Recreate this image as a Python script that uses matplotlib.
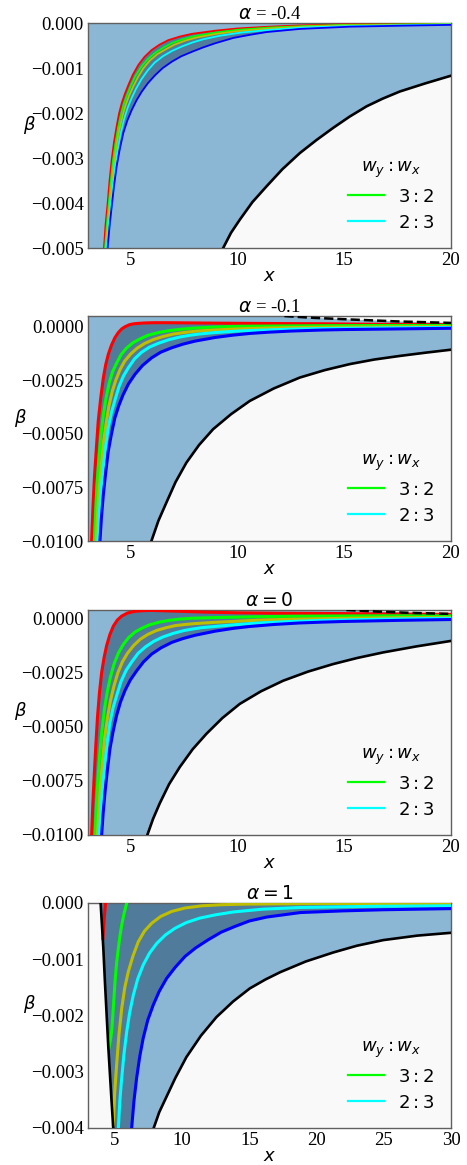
import matplotlib
matplotlib.use('Agg')
import matplotlib.pyplot as plt
from matplotlib.lines import Line2D

plt.rcParams['font.family'] = ['Liberation Serif', 'DejaVu Serif']
plt.rcParams['mathtext.fontset'] = 'dejavusans'

LIGHT = '#8bb6d4'
DARK = '#507b9b'
BG = '#f9f9f9'

titles = [r'$\alpha$ = -0.4', r'$\alpha$ = -0.1', r'$\alpha = 0$', r'$\alpha = 1$']
xlims = [(3, 20), (3, 20), (3, 20), (3, 30)]
ylims = [(-0.005, 0.0), (-0.01, 0.0005), (-0.01, 0.0004), (-0.004, 0.0)]
yticks = [[0.0, -0.001, -0.002, -0.003, -0.004, -0.005],
          [0.0, -0.0025, -0.005, -0.0075, -0.01],
          [0.0, -0.0025, -0.005, -0.0075, -0.01],
          [0.0, -0.001, -0.002, -0.003, -0.004]]
ytick_fmt = ['%.3f', '%.4f', '%.4f', '%.3f']
xticks = [[5, 10, 15, 20], [5, 10, 15, 20], [5, 10, 15, 20], [5, 10, 15, 20, 25, 30]]

# ---- alpha = -0.4
a1_red_x = [3.75, 3.82, 3.92, 4.01, 4.11, 4.22, 4.34, 4.46, 4.58, 4.73, 4.89, 5.1, 5.36, 5.65, 5.98,
            6.35, 6.76, 7.3, 7.86, 8.95, 10.0, 11.5, 13, 15, 17.5, 20]
a1_red_y = [-0.005, -0.0045, -0.00401, -0.0035, -0.00304, -0.00264, -0.0023, -0.002, -0.00178, -0.00157,
            -0.00138, -0.00115, -0.00093, -0.00075, -0.0006, -0.00048, -0.00038, -0.0003, -0.00024,
            -0.00017, -0.00012, -0.00008, -0.00005, -0.00003, -0.00002, -0.00001]
a1_green_x = [3.80, 3.88, 3.97, 4.07, 4.17, 4.29, 4.41, 4.54, 4.67, 4.83, 5.0, 5.22, 5.5, 5.8, 6.15,
              6.55, 6.95, 7.45, 8.0, 9.0, 10.0, 11.5, 13, 15, 17.5, 20]
a1_green_y = [-0.005, -0.0045, -0.00403, -0.00352, -0.00306, -0.00267, -0.00233, -0.00205, -0.00181,
              -0.0016, -0.0014, -0.00118, -0.00097, -0.0008, -0.00066, -0.00054, -0.00044, -0.00036,
              -0.00029, -0.00021, -0.00015, -0.0001, -0.00007, -0.00004, -0.00003, -0.00002]
a1_yellow_x = [3.83, 3.92, 4.01, 4.11, 4.22, 4.34, 4.47, 4.61, 4.75, 4.92, 5.1, 5.33, 5.6, 5.9, 6.25,
               6.65, 7.05, 7.55, 8.1, 9.0, 10.0, 11.5, 13, 15, 17.5, 20]
a1_yellow_y = [-0.005, -0.0045, -0.00405, -0.00355, -0.0031, -0.0027, -0.00237, -0.00208, -0.00184,
               -0.00162, -0.00143, -0.00121, -0.001, -0.00083, -0.00069, -0.00058, -0.00048, -0.00039,
               -0.00032, -0.00024, -0.00018, -0.00012, -0.00008, -0.00005, -0.00004, -0.00002]
a1_cyan_x = [3.87, 3.96, 4.06, 4.17, 4.28, 4.41, 4.55, 4.7, 4.86, 5.05, 5.25, 5.5, 5.8, 6.12, 6.5,
             6.93, 7.4, 7.9, 8.4, 9.2, 10.2, 11.5, 13, 15, 17.5, 20]
a1_cyan_y = [-0.005, -0.00452, -0.00406, -0.00358, -0.00314, -0.00275, -0.00241, -0.00212, -0.00188,
             -0.00166, -0.00146, -0.00125, -0.00105, -0.00088, -0.00074, -0.00062, -0.00052, -0.00043,
             -0.00036, -0.00028, -0.00021, -0.00015, -0.0001, -0.00007, -0.00005, -0.00003]
a1_blue_x = [3.92, 4.01, 4.11, 4.22, 4.34, 4.49, 4.65, 4.84, 5.05, 5.27, 5.51, 5.8, 6.14, 6.5, 6.92,
             7.36, 7.86, 8.4, 8.95, 9.81, 10.6, 11.37, 12.93, 15.27, 17.5, 20]
a1_blue_y = [-0.005, -0.00452, -0.00408, -0.00362, -0.00319, -0.0028, -0.00245, -0.00217, -0.00193,
             -0.00172, -0.00153, -0.00134, -0.00116, -0.001, -0.00086, -0.00074, -0.00064, -0.00054,
             -0.00045, -0.00033, -0.00026, -0.0002, -0.00013, -0.00008, -0.00006, -0.00004]
a1_black_x = [9.33, 9.7, 10.11, 10.7, 11.36, 12.1, 12.92, 13.7, 14.48, 15.25, 16.05, 16.8, 17.61, 18.8, 20]
a1_black_y = [-0.005, -0.00466, -0.00437, -0.00398, -0.00363, -0.00325, -0.00289, -0.0026, -0.00233,
              -0.00208, -0.00185, -0.00168, -0.00152, -0.00134, -0.00117]

# ---- alpha = -0.1
a2_red_x = [3.17, 3.23, 3.30, 3.39, 3.48, 3.6, 3.72, 3.83, 3.95, 4.1, 4.26, 4.42, 4.58, 4.73, 4.95,
            5.15, 5.36, 5.7, 6.1, 6.76, 7.8, 8.95, 10.5, 12, 14, 16, 18, 20]
a2_red_y = [-0.01, -0.0085, -0.00706, -0.0057, -0.0044, -0.0033, -0.00238, -0.00177, -0.00129, -0.00086,
            -0.00051, -0.00027, -0.0001, 0.0, 0.0001, 0.00014, 0.00016, 0.00018, 0.00019, 0.00019,
            0.00018, 0.00017, 0.00016, 0.00015, 0.00014, 0.00012, 0.00011, 0.0001]
a2_green_x = [3.30, 3.36, 3.42, 3.51, 3.6, 3.72, 3.85, 4.0, 4.15, 4.34, 4.55, 4.8, 5.1, 5.45, 5.8,
              6.3, 6.8, 7.4, 8.0, 8.95, 10, 11, 12.5, 14, 17, 20]
a2_green_y = [-0.01, -0.0086, -0.0074, -0.0062, -0.0051, -0.0041, -0.0033, -0.0026, -0.0021, -0.0017,
              -0.0013, -0.001, -0.00075, -0.00056, -0.0004, -0.00027, -0.00018, -0.00011, -0.00006,
              -0.00001, 0.00002, 0.00003, 0.00004, 0.00005, 0.00006, 0.00006]
a2_yellow_x = [3.38, 3.45, 3.52, 3.62, 3.72, 3.85, 3.98, 4.14, 4.3, 4.5, 4.72, 5.0, 5.3, 5.65, 6.05,
               6.5, 7.0, 7.5, 8.0, 8.95, 10, 11, 12.5, 14, 17, 20]
a2_yellow_y = [-0.01, -0.0087, -0.0076, -0.0065, -0.0054, -0.0045, -0.0037, -0.003, -0.0025, -0.002,
               -0.0016, -0.00127, -0.001, -0.00078, -0.0006, -0.00046, -0.00034, -0.00027, -0.00021,
               -0.00015, -0.0001, -0.00007, -0.00004, -0.00002, 0.0, 0.00002]
a2_cyan_x = [3.46, 3.53, 3.6, 3.71, 3.82, 3.95, 4.1, 4.27, 4.45, 4.66, 4.9, 5.18, 5.5, 5.88, 6.3,
             6.8, 7.3, 7.75, 8.2, 8.95, 10, 11, 12.5, 14, 17, 20]
a2_cyan_y = [-0.01, -0.0088, -0.0077, -0.0066, -0.0056, -0.0047, -0.004, -0.0034, -0.0028, -0.0023,
             -0.0019, -0.0015, -0.0012, -0.00095, -0.00077, -0.0006, -0.00048, -0.0004, -0.00034,
             -0.00027, -0.0002, -0.00016, -0.00011, -0.00008, -0.00005, -0.00003]
a2_blue_x = [3.56, 3.63, 3.72, 3.83, 3.95, 4.1, 4.26, 4.45, 4.65, 4.9, 5.2, 5.55, 5.98, 6.4, 6.92,
             7.45, 8.01, 8.95, 9.8, 10.6, 11.5, 12.5, 14, 15, 17.5, 20]
a2_blue_y = [-0.01, -0.0089, -0.00783, -0.0068, -0.00581, -0.005, -0.00425, -0.00366, -0.00316,
             -0.00266, -0.00222, -0.00181, -0.00145, -0.00119, -0.00098, -0.00081, -0.00067, -0.0005,
             -0.00039, -0.00031, -0.00025, -0.0002, -0.00015, -0.00013, -0.0001, -0.00007]
a2_black_x = [5.97, 6.3, 6.67, 7.1, 7.61, 8.2, 8.86, 9.7, 10.58, 11.7, 12.92, 14.1, 15.27, 16.4, 17.61,
              18.8, 20]
a2_black_y = [-0.01, -0.00905, -0.00821, -0.00725, -0.00634, -0.00552, -0.00478, -0.00408, -0.00346,
              -0.00288, -0.00237, -0.00202, -0.00174, -0.00153, -0.00136, -0.00121, -0.00107]
a2_dash_x = [12.2, 13.5, 15.3, 17.5, 20]
a2_dash_y = [0.0005, 0.00042, 0.00034, 0.00025, 0.00018]

# ---- alpha = 0
a3_red_x = [3.17, 3.23, 3.30, 3.37, 3.45, 3.54, 3.64, 3.75, 3.87, 4.02, 4.19, 4.38, 4.58, 4.85, 5.2,
            5.6, 5.98, 7.0, 8.5, 10, 12, 14, 17, 20]
a3_red_y = [-0.01, -0.0085, -0.00709, -0.0058, -0.00448, -0.0034, -0.00249, -0.00182, -0.00126,
            -0.00075, -0.00034, -0.00006, 0.00012, 0.00026, 0.00034, 0.00037, 0.00038, 0.00035, 0.0003,
            0.00027, 0.00025, 0.00024, 0.00022, 0.0002]
a3_green_x = [3.33, 3.39, 3.46, 3.55, 3.65, 3.77, 3.9, 4.05, 4.22, 4.42, 4.65, 4.9, 5.2, 5.55, 5.9,
              6.35, 6.8, 7.3, 7.9, 8.95, 10, 11, 12.5, 14, 17, 20]
a3_green_y = [-0.01, -0.0087, -0.0075, -0.0063, -0.0052, -0.0042, -0.0034, -0.0027, -0.0021, -0.0016,
              -0.0012, -0.00088, -0.00062, -0.00043, -0.00028, -0.00016, -0.00008, -0.00002, 0.00002,
              0.00005, 0.00007, 0.00009, 0.00011, 0.00012, 0.00013, 0.00013]
a3_yellow_x = [3.44, 3.51, 3.58, 3.68, 3.78, 3.91, 4.05, 4.22, 4.4, 4.61, 4.85, 5.13, 5.45, 5.8, 6.2,
               6.65, 7.1, 7.55, 8.0, 8.95, 10, 11, 12.5, 14, 17, 20]
a3_yellow_y = [-0.01, -0.0088, -0.0077, -0.0066, -0.0055, -0.0046, -0.0038, -0.0031, -0.0025, -0.002,
               -0.0016, -0.00125, -0.00095, -0.00073, -0.00055, -0.00042, -0.00032, -0.00027, -0.00023,
               -0.00017, -0.00012, -0.00007, -0.00003, 0.0, 0.00004, 0.00006]
a3_cyan_x = [3.53, 3.6, 3.68, 3.79, 3.9, 4.03, 4.18, 4.36, 4.55, 4.78, 5.05, 5.35, 5.7, 6.08, 6.5,
             7.0, 7.5, 7.9, 8.3, 8.95, 10, 11, 12.5, 14, 17, 20]
a3_cyan_y = [-0.01, -0.0089, -0.0078, -0.0067, -0.0057, -0.0048, -0.0041, -0.0035, -0.0029, -0.0024,
             -0.002, -0.0016, -0.0013, -0.00105, -0.00085, -0.00068, -0.00055, -0.00048, -0.00042,
             -0.00036, -0.00027, -0.0002, -0.00013, -0.00008, -0.00002, 0.00002]
a3_blue_x = [3.64, 3.71, 3.80, 3.91, 4.03, 4.18, 4.34, 4.52, 4.73, 4.98, 5.28, 5.6, 5.98, 6.42, 6.92,
             7.45, 8.01, 8.95, 9.8, 10.6, 11.7, 12.9, 14, 15, 17.5, 20]
a3_blue_y = [-0.01, -0.009, -0.008, -0.007, -0.00601, -0.0052, -0.00448, -0.00386, -0.00333, -0.00284,
             -0.00241, -0.002, -0.00164, -0.00135, -0.0011, -0.00092, -0.00077, -0.00058, -0.00045,
             -0.00036, -0.00027, -0.0002, -0.00016, -0.00013, -0.00008, -0.00004]
a3_black_x = [5.78, 6.05, 6.36, 6.8, 7.30, 7.9, 8.55, 9.3, 10.11, 11.1, 12.14, 13.3, 14.48, 15.6, 16.83,
              18.4, 20]
a3_black_y = [-0.01, -0.00925, -0.00854, -0.00765, -0.00686, -0.00604, -0.00532, -0.00459, -0.00394,
              -0.00336, -0.00287, -0.00245, -0.0021, -0.00182, -0.00156, -0.00128, -0.00103]
a3_dash_x = [15.1, 16.5, 18, 20]
a3_dash_y = [0.0004, 0.00033, 0.00027, 0.00022]

# ---- alpha = 1
a4_red_x = [4.31, 4.25, 4.2, 4.16, 4.12]
a4_red_y = [0.0, -0.00015, -0.0003, -0.00046, -0.00063]
a4_green_x = [4.56, 4.66, 4.76, 4.88, 5.01, 5.13, 5.26, 5.38, 5.51, 5.68, 5.88, 6.3, 12, 20, 24, 30]
a4_green_y = [-0.00258, -0.00245, -0.00229, -0.00188, -0.0014, -0.00106, -0.0008, -0.00058, -0.00039,
              -0.00019, 0.0, 0.0003, 0.0002, 0.00001, -0.00002, -0.00004]
a4_yellow_x = [4.88, 4.98, 5.13, 5.3, 5.51, 5.74, 6.0, 6.35, 6.74, 7.2, 7.74, 8.4, 9.23, 10.2, 11.46,
               13, 14.7, 20, 30]
a4_yellow_y = [-0.00395, -0.0034, -0.00288, -0.00235, -0.00187, -0.0015, -0.00122, -0.00094, -0.00069,
               -0.0005, -0.00036, -0.00024, -0.00015, -0.00009, -0.00005, -0.00003, -0.00002, -0.00001,
               -0.00001]
a4_cyan_x = [5.26, 5.37, 5.51, 5.68, 5.88, 6.1, 6.37, 6.7, 7.11, 7.58, 8.11, 8.75, 9.47, 10.3, 11.3,
             12.5, 13.8, 16, 18.8, 24, 30]
a4_cyan_y = [-0.004, -0.00352, -0.00311, -0.00268, -0.00229, -0.00195, -0.00164, -0.00135, -0.0011,
             -0.00089, -0.00072, -0.00057, -0.00045, -0.00035, -0.00027, -0.00021, -0.00016, -0.00011,
             -0.00008, -0.00006, -0.00005]
a4_blue_x = [6.25, 6.42, 6.62, 6.85, 7.11, 7.45, 7.86, 8.3, 8.85, 9.5, 10.22, 11.0, 11.9, 12.9, 13.9,
             15, 16.3, 18.8, 22, 25, 30]
a4_blue_y = [-0.004, -0.00352, -0.00311, -0.00273, -0.0024, -0.00208, -0.00181, -0.00157, -0.00134,
             -0.00114, -0.00095, -0.0008, -0.00066, -0.00052, -0.00042, -0.00032, -0.00025, -0.00017,
             -0.00014, -0.00012, -0.0001]
a4_black_left_x = [3.94, 4.04, 4.14, 4.26, 4.39, 4.51, 4.64, 4.76, 4.88]
a4_black_left_y = [0.0, -0.0004, -0.0008, -0.0014, -0.002, -0.00255, -0.00307, -0.00355, -0.004]
a4_black_x = [7.89, 8.3, 8.83, 9.5, 10.32, 11.4, 12.55, 13.8, 15.03, 16.2, 17.3, 19.2, 21.24, 23,
              24.96, 27.5, 30]
a4_black_y = [-0.004, -0.00372, -0.00345, -0.00311, -0.00274, -0.00236, -0.00203, -0.00175, -0.00152,
              -0.00136, -0.00123, -0.00104, -0.00088, -0.00076, -0.00066, -0.00058, -0.00053]

panels = [
    dict(red=(a1_red_x, a1_red_y), green=(a1_green_x, a1_green_y), yellow=(a1_yellow_x, a1_yellow_y),
         cyan=(a1_cyan_x, a1_cyan_y), blue=(a1_blue_x, a1_blue_y), black=(a1_black_x, a1_black_y),
         dash=None, left=None, lw=1.3),
    dict(red=(a2_red_x, a2_red_y), green=(a2_green_x, a2_green_y), yellow=(a2_yellow_x, a2_yellow_y),
         cyan=(a2_cyan_x, a2_cyan_y), blue=(a2_blue_x, a2_blue_y), black=(a2_black_x, a2_black_y),
         dash=(a2_dash_x, a2_dash_y), left=None, lw=2.2),
    dict(red=(a3_red_x, a3_red_y), green=(a3_green_x, a3_green_y), yellow=(a3_yellow_x, a3_yellow_y),
         cyan=(a3_cyan_x, a3_cyan_y), blue=(a3_blue_x, a3_blue_y), black=(a3_black_x, a3_black_y),
         dash=(a3_dash_x, a3_dash_y), left=None, lw=2.2),
    dict(red=(a4_red_x, a4_red_y), green=(a4_green_x, a4_green_y), yellow=(a4_yellow_x, a4_yellow_y),
         cyan=(a4_cyan_x, a4_cyan_y), blue=(a4_blue_x, a4_blue_y), black=(a4_black_x, a4_black_y),
         dash=None, left=(a4_black_left_x, a4_black_left_y), lw=2.2),
]

fig = plt.figure(figsize=(4.67, 11.65), dpi=100)
bottoms = [0.7871, 0.5356, 0.2833, 0.0318]

for i, p in enumerate(panels):
    ax = fig.add_axes([0.1884, bottoms[i], 0.7773, 0.1931])
    ax.set_facecolor(BG)
    x0, x1 = xlims[i]
    y0, y1 = ylims[i]
    bx, by = p['black']

    # light region above the black boundary
    if p['left'] is None:
        px = [x0, bx[0]] + list(bx)
        py = [y0, y0] + list(by)
        if p['dash'] is not None:
            dx, dy = p['dash']
            px += list(dx[::-1]) + [x0]
            py += list(dy[::-1]) + [y1]
        else:
            px += [x1, x0]
            py += [y1, y1]
    else:
        lx, ly = p['left']
        px = list(lx) + list(bx) + [x1]
        py = list(ly) + list(by) + [y1]
    ax.fill(px, py, color=LIGHT, lw=0, zorder=1)

    # dark region between the outer curves
    rx, ry = p['red']
    ux, uy = p['blue']
    if p['left'] is None:
        qx = list(rx) + list(ux[::-1])
        qy = list(ry) + list(uy[::-1])
    else:
        lx, ly = p['left']
        qx = list(lx) + list(ux) + [x1]
        qy = list(ly) + list(uy) + [y1]
    ax.fill(qx, qy, color=DARK, lw=0, zorder=2)

    lw = p['lw']
    ax.plot(*p['red'], color='red', lw=lw, zorder=3)
    ax.plot(*p['green'], color='lime', lw=lw, zorder=3)
    ax.plot(*p['yellow'], color='y', lw=lw, zorder=3)
    ax.plot(*p['cyan'], color='cyan', lw=lw, zorder=3)
    ax.plot(*p['blue'], color='blue', lw=lw, zorder=3)
    ax.plot(bx, by, color='black', lw=1.9, zorder=4)
    if p['left'] is not None:
        ax.plot(*p['left'], color='black', lw=1.9, zorder=4)
    if p['dash'] is not None:
        ax.plot(*p['dash'], color='black', lw=1.8, ls='--', zorder=4)

    ax.set_xlim(x0, x1)
    ax.set_ylim(y0, y1)
    ax.set_xticks(xticks[i])
    ax.set_yticks(yticks[i])
    ax.set_yticklabels([(ytick_fmt[i] % v).replace('-', '\u2212') for v in yticks[i]])
    ax.tick_params(length=0, labelsize=13.5, pad=3)
    for s in ax.spines.values():
        s.set_color('#606060')
        s.set_linewidth(1.0)

    ax.set_title(titles[i], fontsize=13.5, pad=2)
    ax.set_xlabel(r'$x$', fontsize=13, labelpad=-1)
    ax.set_ylabel(r'$\beta$', fontsize=13, rotation=0, labelpad=1)

    handles = [Line2D([], [], color='lime', lw=1.6), Line2D([], [], color='cyan', lw=1.6)]
    ax.legend(handles, [r'$3:2$', r'$2:3$'], title=r'$w_y : w_x$', loc='lower right',
              frameon=False, fontsize=13, title_fontsize=13)

fig.savefig('out.png', dpi=100)
